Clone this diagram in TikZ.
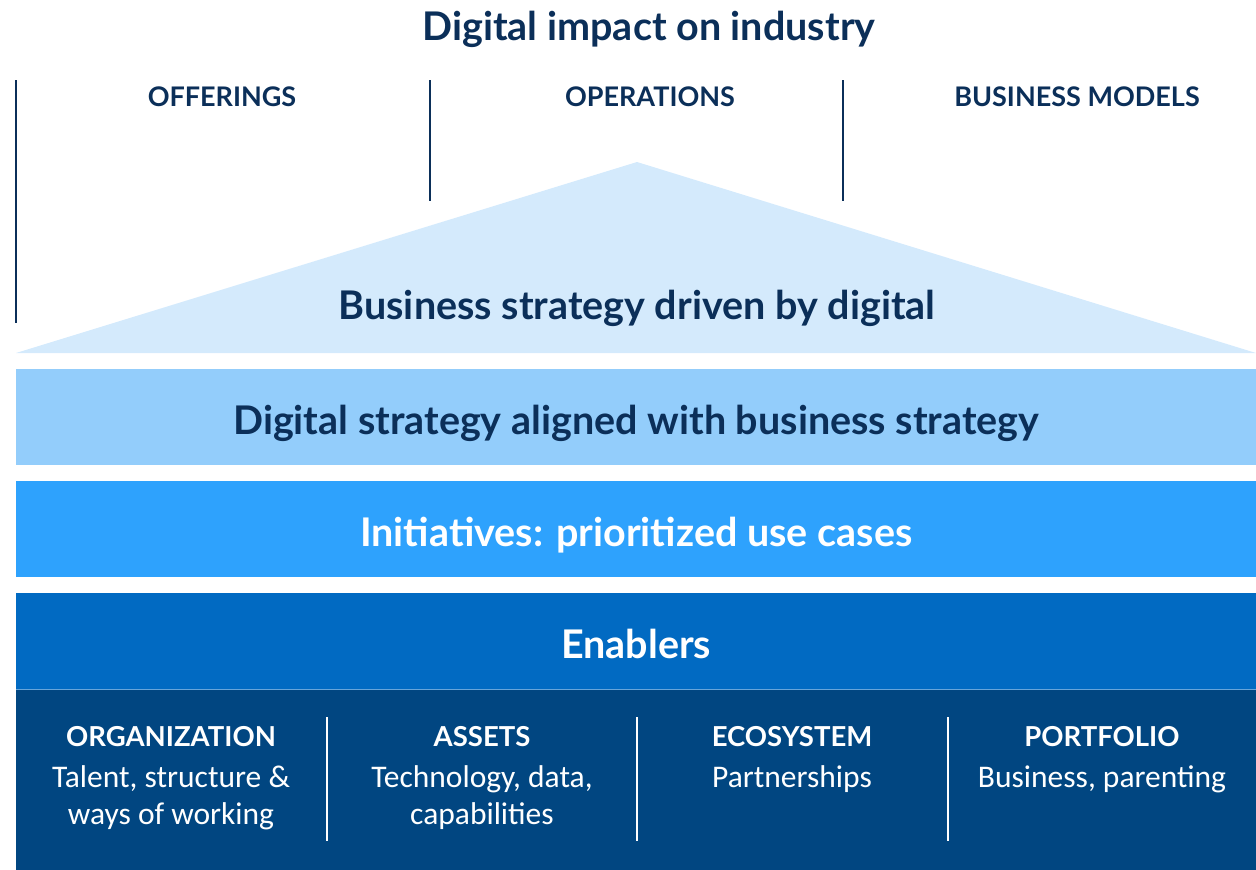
\documentclass[tikz,border=0pt]{standalone}
\usepackage{fontspec}
\setmainfont{Lato}
\newfontfamily\bodyfont{Carlito}
\definecolor{navy}{HTML}{0B2F59}
\definecolor{palesky}{HTML}{D4EAFC}
\definecolor{lightsky}{HTML}{93CDFB}
\definecolor{midsky}{HTML}{2EA2FD}
\definecolor{deepsky}{HTML}{016AC2}
\definecolor{darksky}{HTML}{014681}

\begin{document}
\begin{tikzpicture}[x=1pt,y=-1pt,
    big/.style={font=\fontsize{39.5}{44}\selectfont\bfseries},
    band/.style={big, anchor=north west, inner sep=0pt, minimum width=1240pt,
      minimum height=96pt, text height=34pt, text depth=0pt},
    colhead/.style={font=\fontsize{27}{32}\selectfont\bfseries, text=navy},
    pillar/.style={align=center, text=white, font=\fontsize{31.5}{37}\selectfont\bodyfont},
  ]
  \useasboundingbox (0,0) rectangle (1256,870);

  \node[big, text=navy] (title) at (649,29) {Digital impact on industry};

  % columns of impact
  \draw[navy, line width=1.8pt] (16,80) -- (16,323);
  \draw[navy, line width=1.8pt] (430,80) -- (430,201);
  \draw[navy, line width=1.8pt] (843,80) -- (843,201);
  \node[colhead] (offer) at (222,97) {OFFERINGS};
  \node[colhead] (oper) at (650,97) {OPERATIONS};
  \node[colhead] (model) at (1077,97) {BUSINESS MODELS};

  % roof
  \fill[palesky] (16,353) -- (637,162) -- (1256,353) -- cycle;
  \node[big, text=navy] (roof) at (637,308) {Business strategy driven by digital};

  % layers
  \node[band, fill=lightsky, text=navy] (digital) at (16,369) {Digital strategy aligned with business strategy};
  \node[band, fill=midsky, text=white] (initiatives) at (16,481) {Initiatives: prioritized use cases};
  \node[band, fill=deepsky, text=white] (enablers) at (16,593) {Enablers};
  \fill[darksky] (16,689) rectangle (1256,870);
  \draw[deepsky!60!white, line width=0.8pt] (16,689) -- (1256,689);

  \foreach \x in {327,637,948}
    \draw[white, line width=1.8pt] (\x,717) -- (\x,841);

  \node[pillar, anchor=north] (org) at (171,723) {{\fontsize{27.5}{32}\fontspec{Lato Bold}ORGANIZATION}\\[4pt]Talent, structure \&\\ways of working};
  \node[pillar, anchor=north] (assets) at (482,723) {{\fontsize{27.5}{32}\fontspec{Lato Bold}ASSETS}\\[4pt]Technology, data,\\capabilities};
  \node[pillar, anchor=north] (eco) at (792,723) {{\fontsize{27.5}{32}\fontspec{Lato Bold}ECOSYSTEM}\\[4pt]Partnerships};
  \node[pillar, anchor=north] (port) at (1102,723) {{\fontsize{27.5}{32}\fontspec{Lato Bold}PORTFOLIO}\\[4pt]Business, parenting};
\end{tikzpicture}
\end{document}
